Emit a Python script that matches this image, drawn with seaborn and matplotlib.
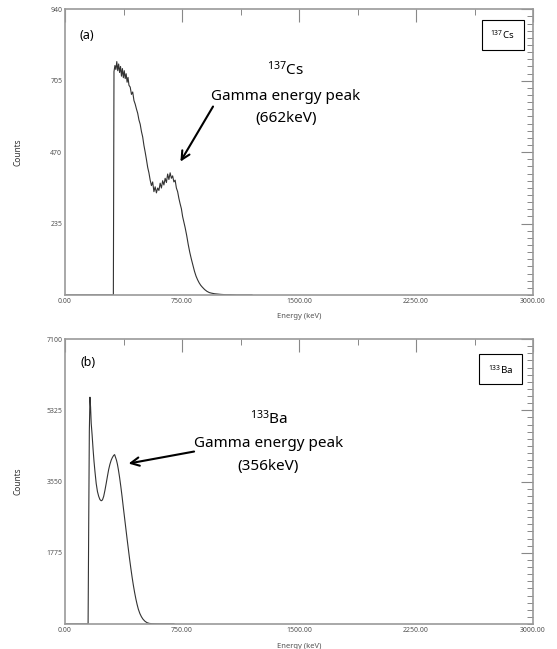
import numpy as np
import pandas as pd
import seaborn as sns
import matplotlib.pyplot as plt
from matplotlib.ticker import MultipleLocator, FixedLocator

# Spectrum of 137Cs
cs_energy = [0, 310, 314, 320, 326, 332, 338, 344, 350, 356, 362, 368, 374, 380, 386,
             392, 398, 404, 410, 418, 426, 434, 442, 450, 458, 466, 474, 482, 490, 498,
             506, 514, 522, 530, 538, 546, 554, 562, 570, 578, 586, 594, 602, 610, 618,
             626, 634, 642, 650, 658, 666, 674, 682, 690, 698, 706, 714, 722, 730, 738,
             746, 754, 762, 770, 780, 790, 800, 810, 820, 830, 840, 850, 860, 870, 880,
             895, 910, 925, 940, 960, 980, 1000, 1030, 1060, 1100, 1150, 1200]
cs_counts = [0, 0, 735, 755, 742, 768, 738, 760, 732, 752, 720, 745, 715, 738, 712,
             728, 700, 716, 690, 684, 660, 668, 640, 628, 612, 598, 576, 562, 538, 520,
             492, 470, 446, 420, 402, 378, 360, 372, 340, 356, 336, 352, 344, 368, 352,
             376, 362, 384, 370, 398, 380, 402, 384, 392, 372, 378, 352, 340, 318, 300,
             284, 258, 240, 222, 196, 166, 140, 118, 98, 78, 62, 50, 40, 32, 26,
             18, 12, 8, 6, 4, 3, 2, 1, 1, 0, 0, 0]

# Spectrum of 133Ba
ba_energy = [0, 148, 152, 156, 160, 164, 168, 174, 180, 186, 192, 200, 208, 216, 224,
             232, 240, 248, 256, 264, 272, 280, 288, 296, 304, 312, 318, 324, 330, 336,
             342, 350, 358, 366, 374, 382, 390, 398, 406, 414, 422, 430, 438, 446, 454,
             462, 470, 480, 490, 500, 512, 525, 540, 560, 590, 620, 700]
ba_counts = [0, 0, 2500, 4800, 5650, 5400, 5000, 4700, 4350, 4050, 3800, 3500, 3300, 3180, 3100,
             3070, 3090, 3180, 3330, 3500, 3680, 3850, 3980, 4080, 4150, 4200, 4220, 4150, 4080, 3980,
             3850, 3650, 3420, 3170, 2900, 2640, 2380, 2120, 1870, 1620, 1390, 1170, 970, 790, 630,
             490, 370, 260, 180, 120, 70, 35, 15, 6, 2, 0, 0]

x_major = [0, 750, 1500, 2250, 3000]
x_labels = ["0.00", "750.00", "1500.00", "2250.00", "3000.00"]
cs_yticks = [235, 470, 705, 940]
ba_yticks = [1775, 3550, 5325, 7100]

sns.set_style("white")
plt.rcParams['font.family'] = ['Noto Sans', 'DejaVu Sans']
plt.rcParams['mathtext.default'] = 'regular'

fig = plt.figure(figsize=(5.57, 6.49), dpi=100)
ax1 = fig.add_axes([65/557, 1-295/649, 468/557, 285.7/649])
ax2 = fig.add_axes([65/557, 1-624/649, 468/557, 285/649])

df_cs = pd.DataFrame({'Energy': cs_energy, 'Counts': cs_counts})
df_ba = pd.DataFrame({'Energy': ba_energy, 'Counts': ba_counts})

sns.lineplot(data=df_cs, x='Energy', y='Counts', ax=ax1, color='#333333',
             linewidth=0.8, estimator=None)
sns.lineplot(data=df_ba, x='Energy', y='Counts', ax=ax2, color='#333333',
             linewidth=0.8, estimator=None)


def style_axes(ax, yticks, ymax, yminor):
    ax.set_xlim(0, 3000)
    ax.set_ylim(0, ymax)
    ax.xaxis.set_major_locator(FixedLocator(x_major))
    ax.set_xticklabels(x_labels)
    ax.xaxis.set_minor_locator(MultipleLocator(375))
    ax.yaxis.set_major_locator(FixedLocator(yticks))
    ax.set_yticklabels([str(t) for t in yticks])
    ax.yaxis.set_minor_locator(MultipleLocator(yminor))
    ax.tick_params(which='major', direction='in', length=9, width=0.8,
                   top=True, right=True, color='#888888', labelsize=5,
                   labelcolor='#555555', pad=2)
    ax.tick_params(which='minor', direction='in', length=4, width=0.7,
                   top=True, right=True, color='#888888')
    for s in ax.spines.values():
        s.set_color('#999999')
        s.set_linewidth(1.2)
    ax.set_xlabel("Energy (keV)", fontsize=5.5, color='#555555')
    ax.set_ylabel("Counts", fontsize=6, fontweight='bold', color='#333333')
    ax.yaxis.set_label_coords(-0.09, 0.5)


style_axes(ax1, cs_yticks, 940, 23.5)
style_axes(ax2, ba_yticks, 7100, 177.5)
ax1.xaxis.set_label_coords(0.5, -0.063)
ax2.xaxis.set_label_coords(0.5, -0.066)

arrow_kw = dict(arrowstyle='->,head_length=0.6,head_width=0.3', color='black', lw=1.5)

# Panel (a)
ax1.text(0.047, 0.91, "(a)", transform=ax1.transAxes, fontsize=9,
         ha='center', va='center', color='black')
ax1.text(0.935, 0.911, r"$^{137}$Cs", transform=ax1.transAxes, fontsize=7,
         ha='center', va='center', color='black',
         bbox=dict(boxstyle='square,pad=0.9', fc='white', ec='black', lw=0.8))
ax1.text(0.472, 0.788, r"$^{137}$Cs", transform=ax1.transAxes, fontsize=11,
         ha='center', va='center', color='black')
ax1.text(0.472, 0.696, "Gamma energy peak", transform=ax1.transAxes, fontsize=11,
         ha='center', va='center', color='black')
ax1.text(0.472, 0.619, "(662keV)", transform=ax1.transAxes, fontsize=11,
         ha='center', va='center', color='black')
ax1.annotate('', xy=(731, 431), xytext=(958, 628), arrowprops=arrow_kw)

# Panel (b)
ax2.text(0.049, 0.917, "(b)", transform=ax2.transAxes, fontsize=9,
         ha='center', va='center', color='black')
ax2.text(0.931, 0.894, r"$^{133}$Ba", transform=ax2.transAxes, fontsize=7,
         ha='center', va='center', color='black',
         bbox=dict(boxstyle='square,pad=0.9', fc='white', ec='black', lw=0.8))
ax2.text(0.437, 0.719, r"$^{133}$Ba", transform=ax2.transAxes, fontsize=11,
         ha='center', va='center', color='black')
ax2.text(0.435, 0.634, "Gamma energy peak", transform=ax2.transAxes, fontsize=11,
         ha='center', va='center', color='black')
ax2.text(0.434, 0.552, "(356keV)", transform=ax2.transAxes, fontsize=11,
         ha='center', va='center', color='black')
ax2.annotate('', xy=(390, 3985), xytext=(845, 4309), arrowprops=arrow_kw)

fig.savefig("out.png", dpi=100)
